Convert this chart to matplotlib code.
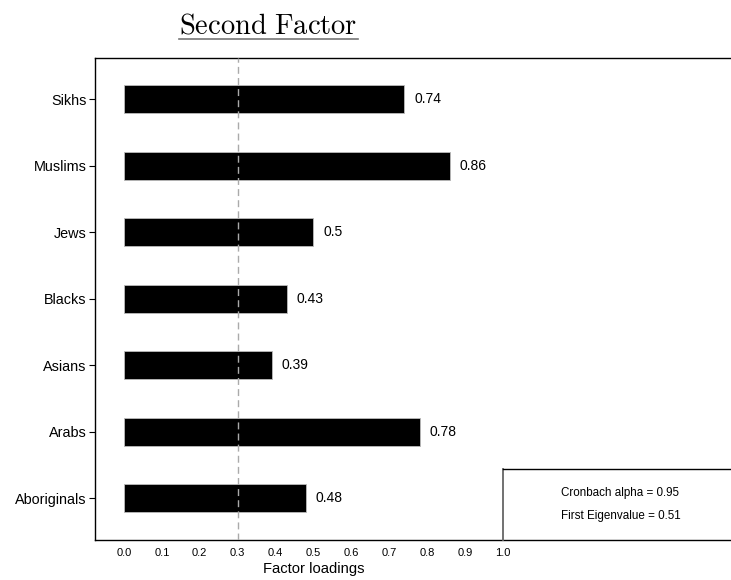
import matplotlib
matplotlib.use("Agg")
import matplotlib.pyplot as plt
from matplotlib.lines import Line2D

categories = ["Aboriginals", "Arabs", "Asians", "Blacks", "Jews", "Muslims", "Sikhs"]
loadings = [0.48, 0.78, 0.39, 0.43, 0.50, 0.86, 0.74]
value_labels = ["0.48", "0.78", "0.39", "0.43", "0.5", "0.86", "0.74"]
xticks = [0.0, 0.1, 0.2, 0.3, 0.4, 0.5, 0.6, 0.7, 0.8, 0.9, 1.0]
xtick_labels = ["0.0", "0.1", "0.2", "0.3", "0.4", "0.5", "0.6", "0.7", "0.8", "0.9", "1.0"]
threshold = 0.3
stats_text = ["Cronbach alpha = 0.95", "First Eigenvalue = 0.51"]

plt.rcParams['font.family'] = ['Liberation Sans', 'DejaVu Sans']
plt.rcParams['mathtext.fontset'] = 'cm'

W, H = 731, 580
fig = plt.figure(figsize=(W / 100, H / 100), dpi=100)

x_left, x_right = -0.0765, 1.70
ax_left_px, ax_top_px, ax_bot_px = 95, 58, 540
ax_right_px = 124 + x_right * 379
ax = fig.add_axes([ax_left_px / W, 1 - ax_bot_px / H,
                   (ax_right_px - ax_left_px) / W, (ax_bot_px - ax_top_px) / H])

ypos = list(range(len(categories)))
ax.barh(ypos, loadings, height=0.42, color='black', edgecolor='#bbbbbb', linewidth=0.6, zorder=2)
ax.axvline(threshold, color='#aaaaaa', linestyle=(0, (5, 3)), linewidth=1.0, zorder=3)

for y, v, lab in zip(ypos, loadings, value_labels):
    ax.annotate(lab, xy=(v, y), xytext=(7, 0), textcoords='offset points',
                ha='left', va='center', fontsize=10)

ax.set_xlim(x_left, x_right)
ax.set_ylim(-0.63, 6.62)
ax.set_yticks(ypos)
ax.set_yticklabels(categories, fontsize=10.4)
ax.set_xticks(xticks)
ax.set_xticklabels(xtick_labels, fontsize=8)
ax.tick_params(axis='y', direction='out', length=4, width=0.8, pad=2)
ax.tick_params(axis='x', direction='out', length=0, pad=6)
ax.set_xlabel("Factor loadings", fontsize=10.6)
ax.xaxis.set_label_coords((0.5 - x_left) / (x_right - x_left), -0.045)

for s in ['left', 'top', 'bottom']:
    ax.spines[s].set_linewidth(1.0)
    ax.spines[s].set_color('black')
ax.spines['right'].set_visible(False)

# stats box
yspan = 6.62 + 0.63
box_top = -0.63 + (540 - 469) / (540 - 58) * yspan
ax.plot([1.0, 1.0], [-0.63, box_top], color='#666666', linewidth=1.3, clip_on=False, zorder=4)
ax.plot([1.0, x_right], [box_top, box_top], color='black', linewidth=1.0, clip_on=False, zorder=4)
ax.text(1.31, -0.63 + (540 - 493) / (540 - 58) * yspan, stats_text[0], ha='center', va='center', fontsize=8.4)
ax.text(1.31, -0.63 + (540 - 516) / (540 - 58) * yspan, stats_text[1], ha='center', va='center', fontsize=8.4)

# title
fig.text(268 / W, 1 - 27 / H, r'$\mathrm{Second\ Factor}$', ha='center', va='center', fontsize=20.5)
fig.add_artist(Line2D([179 / W, 358 / W], [1 - 38.5 / H, 1 - 38.5 / H], color='#777777', linewidth=1.2))

fig.savefig("out.png", dpi=100)
